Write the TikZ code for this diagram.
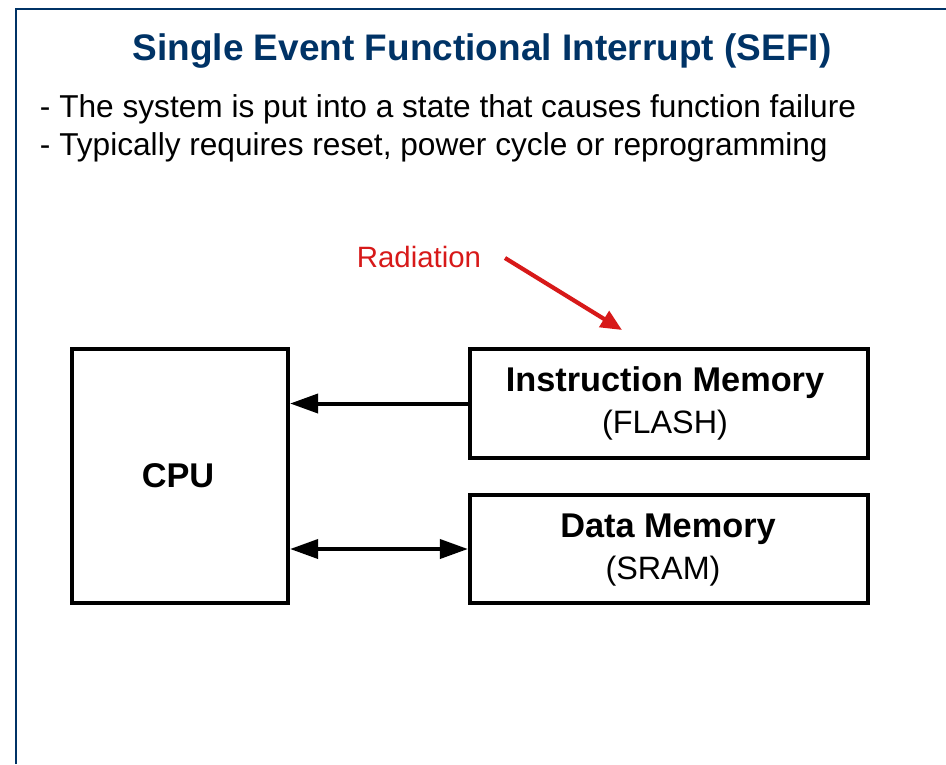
\documentclass[tikz,border=0pt]{standalone}
\usepackage{fontspec}
\setmainfont{Liberation Sans}
\usetikzlibrary{arrows.meta}

\definecolor{sefiblue}{RGB}{0,51,102}
\definecolor{radred}{RGB}{215,25,25}

\tikzset{
	unitbox/.style={draw, line width=2.85pt, rectangle, inner sep=0pt},
	boxname/.style={anchor=base, font=\fontsize{24.4}{29}\selectfont\bfseries},
	boxsub/.style={anchor=base, font=\fontsize{23}{28}\selectfont},
	bullet/.style={anchor=base west, font=\fontsize{22.5}{27}\selectfont},
	bus/.style={line width=2.85pt, -{Triangle[length=20pt, width=13.5pt]}},
	busboth/.style={line width=2.85pt, {Triangle[length=20pt, width=13.5pt]}-{Triangle[length=20pt, width=13.5pt]}}
}

\begin{document}
\begin{tikzpicture}[x=0.025cm, y=-0.025cm]
	\useasboundingbox (0,0) rectangle (946,764);
	
	\coordinate (TL) at (16,9);
	\coordinate (TR) at (946,9);
	\coordinate (BL) at (16,764);
	\draw[sefiblue, line width=1.9pt] (BL) -- (TL) -- (TR);
	
	\node[anchor=base, text=sefiblue, font=\fontsize{26.3}{31}\selectfont\bfseries] (title) at (482,60) {Single Event Functional Interrupt (SEFI)};
	\node[bullet] (b1) at (35,117) {- The system is put into a state that causes function failure};
	\node[bullet] (b2) at (35,155) {- Typically requires reset, power cycle or reprogramming};
	
	\node[unitbox, minimum width=5.4cm, minimum height=6.35cm] (cpu) at (180,476) {};
	\node[unitbox, minimum width=9.95cm, minimum height=2.725cm] (imem) at (669,403.5) {};
	\node[unitbox, minimum width=9.95cm, minimum height=2.7cm] (dmem) at (669,549) {};
	
	\node[boxname] (cpuname) at (178,487) {CPU};
	\node[boxname] (imemname) at (665,391) {Instruction Memory};
	\node[boxsub] (imemsub) at (665,433) {(FLASH)};
	\node[boxname] (dmemname) at (668,537) {Data Memory};
	\node[boxsub] (dmemsub) at (663,579) {(SRAM)};
	
	\draw[bus] (imem.west) -- (imem.west -| cpu.east);
	\draw[busboth] (dmem.west -| cpu.east) -- (dmem.west);
	
	% radiation hit on the flash
	\node[anchor=base, text=radred, font=\fontsize{20.9}{25}\selectfont] (rad) at (419,267) {Radiation};
	\coordinate (radtail) at (505,258);
	\coordinate (hit) at (622,330);
	\draw[radred, line width=3pt, -{Triangle[length=15pt, width=13pt]}] (radtail) -- (hit);
\end{tikzpicture}
\end{document}
